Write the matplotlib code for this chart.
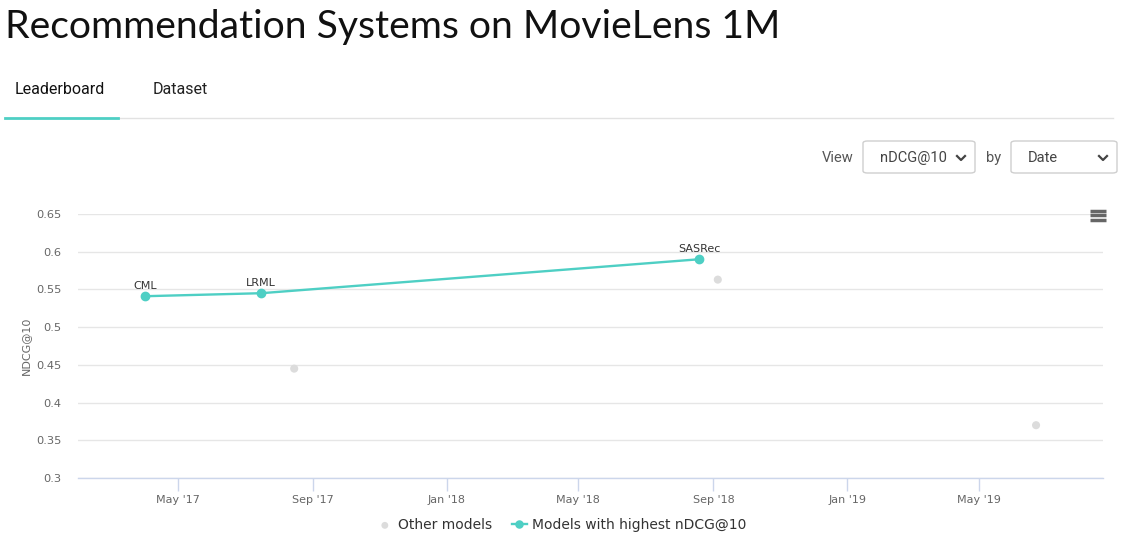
import datetime as dt

import matplotlib.pyplot as plt
import matplotlib.dates as mdates
from matplotlib.patches import FancyBboxPatch
from matplotlib.lines import Line2D

# data
best_models = ["CML", "LRML", "SASRec"]
best_dates = [dt.date(2017, 4, 1), dt.date(2017, 7, 16), dt.date(2018, 8, 19)]
best_scores = [0.541, 0.545, 0.590]

other_dates = [dt.date(2017, 8, 15), dt.date(2018, 9, 5), dt.date(2019, 6, 22)]
other_scores = [0.445, 0.563, 0.370]

y_ticks = [0.3, 0.35, 0.4, 0.45, 0.5, 0.55, 0.6, 0.65]
y_tick_labels = ["0.3", "0.35", "0.4", "0.45", "0.5", "0.55", "0.6", "0.65"]

TEAL = "#4ecfc4"
GREY_DOT = "#dcdcdc"
W, H = 1129, 546


def fx(px):
    return px / W


def fy(py):
    return 1 - py / H


fig = plt.figure(figsize=(W / 100, H / 100), dpi=100)

# page header
fig.text(fx(5), fy(27), "Recommendation Systems on MovieLens 1M", fontsize=28.2,
         family="Lato", color="#111111", va="center", ha="left")
fig.text(fx(15), fy(90), "Leaderboard", fontsize=11.5, family="Roboto",
         color="#111111", va="center")
fig.text(fx(153), fy(90), "Dataset", fontsize=11.5, family="Roboto",
         color="#222222", va="center")
fig.add_artist(Line2D([fx(118), fx(1113)], [fy(117.5), fy(117.5)],
                      color="#e2e2e2", lw=1, transform=fig.transFigure))
fig.add_artist(Line2D([fx(5), fx(118)], [fy(117.5), fy(117.5)],
                      color=TEAL, lw=2, transform=fig.transFigure))

# view / by selectors
fig.text(fx(822), fy(158), "View", fontsize=10.5, family="Roboto",
         color="#555555", va="center")
fig.text(fx(986), fy(158), "by", fontsize=10.5, family="Roboto",
         color="#555555", va="center")
for x0, x1, label, lx in [(863, 975, "nDCG@10", 880), (1011, 1117, "Date", 1028)]:
    box = FancyBboxPatch((fx(x0), fy(173)), fx(x1 - x0), (173 - 141) / H,
                         boxstyle="round,pad=0,rounding_size=0.004",
                         transform=fig.transFigure, facecolor="white",
                         edgecolor="#cfcfcf", lw=1)
    fig.add_artist(box)
    fig.text(fx(lx), fy(158), label, fontsize=10.5, family="Roboto",
             color="#444444", va="center")
    # small chevron
    cx = x1 - 14
    fig.add_artist(Line2D([fx(cx - 4), fx(cx), fx(cx + 4)], [fy(156), fy(160), fy(156)],
                          color="#444444", lw=1.6, transform=fig.transFigure))

# hamburger menu icon
for yy in [211, 215.5, 220]:
    fig.add_artist(Line2D([fx(1090), fx(1106)], [fy(yy), fy(yy)], color="#666666",
                          lw=2.5, transform=fig.transFigure, solid_capstyle="butt"))

# chart
ax = fig.add_axes([fx(78), fy(478), fx(1103 - 78), (478 - 214) / H])
ax.set_xlim(dt.date(2017, 1, 30), dt.date(2019, 8, 22))
ax.set_ylim(0.3, 0.65)

ax.scatter(other_dates, other_scores, s=34, color=GREY_DOT, zorder=2,
           label="Other models", edgecolors="none")
ax.plot(best_dates, best_scores, color=TEAL, lw=1.7, marker="o", markersize=6,
        zorder=3, label="Models with highest nDCG@10")
for name, d, s in zip(best_models, best_dates, best_scores):
    ax.annotate(name, (d, s), xytext=(0, 4), textcoords="offset points",
                ha="center", va="bottom", fontsize=8, color="#333333")

ax.set_yticks(y_ticks)
ax.set_yticklabels(y_tick_labels)
ax.grid(axis="y", color="#e6e6e6", lw=1)
ax.set_axisbelow(True)
ax.tick_params(axis="y", length=0, pad=12, labelsize=8.2, labelcolor="#666666")

ax.xaxis.set_major_locator(mdates.MonthLocator(bymonth=[1, 5, 9]))
ax.xaxis.set_major_formatter(mdates.DateFormatter("%b '%y"))
ax.tick_params(axis="x", length=9, width=1, color="#ccd6eb", pad=3,
               labelsize=8, labelcolor="#666666")

for side in ["top", "right", "left"]:
    ax.spines[side].set_visible(False)
ax.spines["bottom"].set_color("#ccd6eb")
ax.spines["bottom"].set_linewidth(1)

ax.set_ylabel("NDCG@10", fontsize=8, color="#666666")
ax.yaxis.set_label_coords((31 - 78) / (1103 - 78), 0.5)

leg = fig.legend(loc="center", bbox_to_anchor=(fx(562), fy(525)), ncol=2,
                 frameon=False, fontsize=10, handlelength=1.1,
                 columnspacing=1.4, handletextpad=0.4, markerscale=0.85)
for t in leg.get_texts():
    t.set_color("#333333")

fig.savefig("out.png", dpi=100)
